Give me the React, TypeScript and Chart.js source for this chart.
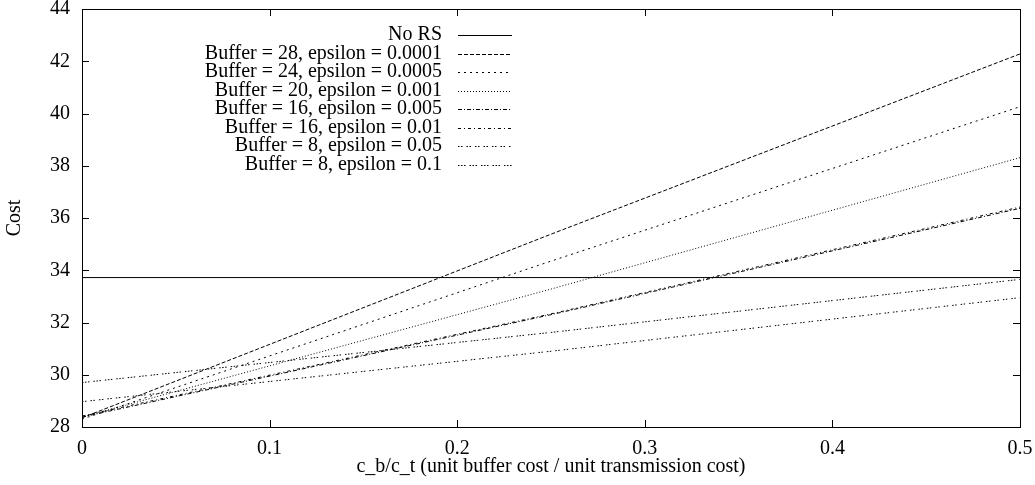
import React, { useEffect, useRef } from "react";
import { Chart, registerables } from "chart.js";

Chart.register(...registerables);

// x positions (c_b / c_t)
const xValues = [0, 0.25, 0.5];

const seriesLabels = [
  "No RS",
  "Buffer = 28, epsilon = 0.0001",
  "Buffer = 24, epsilon = 0.0005",
  "Buffer = 20, epsilon = 0.001",
  "Buffer = 16, epsilon = 0.005",
  "Buffer = 16, epsilon = 0.01",
  "Buffer = 8, epsilon = 0.05",
  "Buffer = 8, epsilon = 0.1",
];

const noRS = [33.72, 33.72, 33.72];
const b28e00001 = [28.35, 35.38, 42.28];
const b24e00005 = [28.3, 34.35, 40.26];
const b20e0001 = [28.38, 33.28, 38.31];
const b16e0005 = [28.38, 32.3, 36.37];
const b16e001 = [28.42, 32.33, 36.42];
const b8e005 = [28.97, 30.9, 32.95];
const b8e01 = [29.7, 31.62, 33.65];

const seriesValues = [noRS, b28e00001, b24e00005, b20e0001, b16e0005, b16e001, b8e005, b8e01];

const dashes: number[][] = [
  [],
  [4, 2],
  [2, 4],
  [1, 2],
  [4, 2, 1, 2],
  [3, 3, 1, 3],
  [1.5, 1.5, 1.5, 4],
  [1.5, 1.5, 1.5, 1.5, 1.5, 4],
];

const xTicks = [0, 0.1, 0.2, 0.3, 0.4, 0.5];
const yTicks = [28, 30, 32, 34, 36, 38, 40, 42, 44];

const FONT = '"Liberation Serif", "Times New Roman", serif';
const FS = 20;

const framePlugin = {
  id: "gnuFrame",
  afterDatasetsDraw(chart: any) {
    const { ctx, chartArea } = chart;
    const { left, right, top, bottom } = chartArea;
    const xs = chart.scales.x;
    const ys = chart.scales.y;
    const tl = 7;
    ctx.save();
    ctx.strokeStyle = "#000";
    ctx.lineWidth = 1;
    ctx.setLineDash([]);
    ctx.beginPath();
    xTicks.forEach((v) => {
      const px = Math.round(xs.getPixelForValue(v)) + 0.5;
      ctx.moveTo(px, bottom);
      ctx.lineTo(px, bottom - tl);
      ctx.moveTo(px, top);
      ctx.lineTo(px, top + tl);
    });
    yTicks.forEach((v) => {
      const py = Math.round(ys.getPixelForValue(v)) + 0.5;
      ctx.moveTo(left, py);
      ctx.lineTo(left + tl, py);
      ctx.moveTo(right, py);
      ctx.lineTo(right - tl, py);
    });
    ctx.stroke();
    ctx.strokeRect(Math.round(left) + 0.5, Math.round(top) + 0.5, Math.round(right - left), Math.round(bottom - top));

    // gnuplot-style key
    ctx.font = `${FS}px ${FONT}`;
    ctx.fillStyle = "#000";
    ctx.textAlign = "right";
    ctx.textBaseline = "middle";
    const textRight = 442;
    const lineX0 = 458;
    const lineX1 = 512;
    const y0 = 35;
    const dy = 18.5;
    chart.data.datasets.forEach((ds: any, i: number) => {
      const y = y0 + i * dy;
      ctx.fillText(ds.label, textRight, y);
      ctx.setLineDash(ds.borderDash || []);
      ctx.beginPath();
      ctx.moveTo(lineX0, Math.round(y) + 0.5);
      ctx.lineTo(lineX1, Math.round(y) + 0.5);
      ctx.stroke();
    });
    ctx.restore();
  },
};

export default function App() {
  const ref = useRef<HTMLCanvasElement>(null);

  useEffect(() => {
    if (!ref.current) return;
    const datasets = seriesLabels.map((label, i) => ({
      label,
      data: xValues.map((x, j) => ({ x, y: seriesValues[i][j] })),
      borderColor: "#000",
      borderWidth: 1,
      borderDash: dashes[i],
      pointRadius: 0,
      fill: false,
      tension: 0,
    }));
    const chart = new Chart(ref.current, {
      type: "line",
      data: { datasets },
      plugins: [framePlugin],
      options: {
        animation: false,
        responsive: false,
        maintainAspectRatio: false,
        layout: { padding: { top: 9, right: 15, left: 0, bottom: 0 } },
        plugins: { legend: { display: false }, tooltip: { enabled: false } },
        scales: {
          x: {
            type: "linear",
            min: 0,
            max: 0.5,
            afterFit: (s: any) => {
              s.height = 58;
              s.paddingLeft = 0;
              s.paddingRight = 0;
            },
            afterBuildTicks: (s: any) => {
              s.ticks = xTicks.map((v) => ({ value: v }));
            },
            grid: { display: false, drawTicks: false },
            border: { display: false },
            ticks: {
              padding: 10,
              color: "#000",
              font: { family: FONT, size: FS },
              maxRotation: 0,
              callback: (v: any) => String(v),
            },
            title: {
              display: true,
              text: "c_b/c_t (unit buffer cost / unit transmission cost)",
              color: "#000",
              font: { family: FONT, size: FS },
              padding: { top: 0, bottom: 6 },
            },
          },
          y: {
            type: "linear",
            min: 28,
            max: 44,
            afterFit: (s: any) => {
              s.width = 82;
              s.paddingTop = 0;
              s.paddingBottom = 0;
            },
            afterBuildTicks: (s: any) => {
              s.ticks = yTicks.map((v) => ({ value: v }));
            },
            grid: { display: false, drawTicks: false },
            border: { display: false },
            ticks: {
              padding: 12,
              color: "#000",
              font: { family: FONT, size: FS },
              callback: (v: any) => String(v),
            },
            title: {
              display: true,
              text: "Cost",
              color: "#000",
              font: { family: FONT, size: FS },
              padding: { top: 3, bottom: 0 },
            },
          },
        },
      },
    });
    return () => chart.destroy();
  }, []);

  return (
    <div style={{ position: "absolute", left: 0, top: 0, width: 1035, height: 485 }}>
      <canvas ref={ref} width={1035} height={485} style={{ width: 1035, height: 485 }} />
    </div>
  );
}
